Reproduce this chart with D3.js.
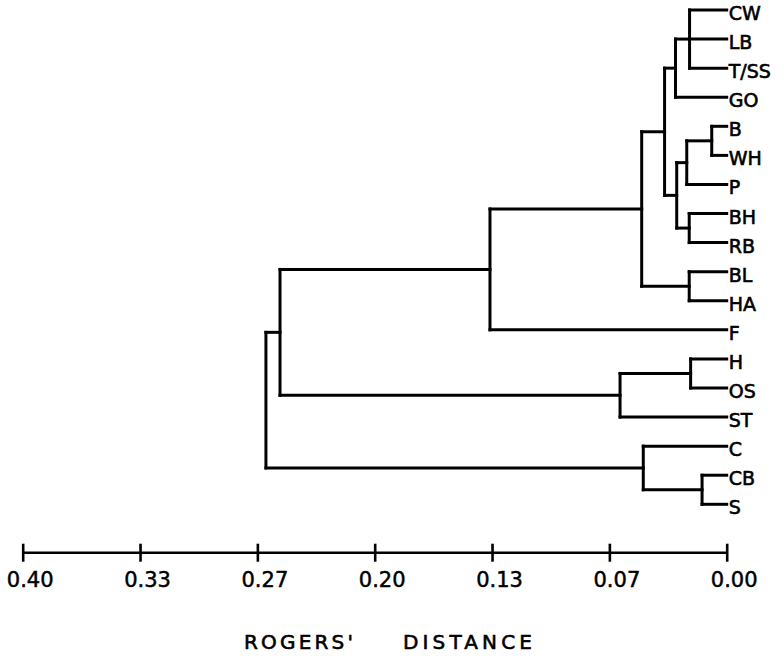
<!DOCTYPE html>
<html>
<head>
<meta charset="utf-8">
<script src="https://cdn.jsdelivr.net/npm/d3@7"></script>
<style>
  body { margin: 0; background: #fff; }
  svg { display: block; }
  .branch { fill: none; stroke: #000; stroke-width: 3; stroke-linecap: square; }
  .leaf { font-family: "DejaVu Sans", sans-serif; font-size: 19px; fill: #000; stroke: #000; stroke-width: 0.6; }
  .axis text { font-family: "DejaVu Sans", sans-serif; font-size: 21px; fill: #000; stroke: #000; stroke-width: 0.5; }
  .axis line, .axis path { stroke: #000; stroke-width: 2.6; }
  .title { font-family: "DejaVu Sans", sans-serif; font-size: 20px; fill: #000; stroke: #000; stroke-width: 0.6; }
</style>
</head>
<body>
<div id="chart"></div>
<script>
// leaves, top to bottom
var leaves = ["CW", "LB", "T/SS", "GO", "B", "WH", "P", "BH", "RB", "BL", "HA",
              "F", "H", "OS", "ST", "C", "CB", "S"];

// clusters: [id, members, Rogers' distance where they join]
var joins = [
  ["n1", ["CW", "LB", "T/SS"], 0.0211],
  ["n2", ["n1", "GO"], 0.0291],
  ["n3", ["B", "WH"], 0.0085],
  ["n4", ["n3", "P"], 0.0227],
  ["n5", ["BH", "RB"], 0.0213],
  ["n6", ["n4", "n5"], 0.0284],
  ["n7", ["n2", "n6"], 0.0353],
  ["n8", ["BL", "HA"], 0.0213],
  ["n9", ["n7", "n8"], 0.0483],
  ["n10", ["n9", "F"], 0.1345],
  ["n11", ["H", "OS"], 0.0205],
  ["n12", ["n11", "ST"], 0.0606],
  ["n13", ["n10", "n12"], 0.2538],
  ["n14", ["CB", "S"], 0.0140],
  ["n15", ["C", "n14"], 0.0474],
  ["n16", ["n13", "n15"], 0.2618]
];

// axis ticks
var tickValues = [0.4, 0.4 * 5 / 6, 0.4 * 4 / 6, 0.2, 0.4 * 2 / 6, 0.4 / 6, 0];
var tickLabels = ["0.40", "0.33", "0.27", "0.20", "0.13", "0.07", "0.00"];

var svgWidth = 784;
var svgHeight = 656;

var svg = d3.select("#chart")
  .append("svg")
  .attr("width", svgWidth)
  .attr("height", svgHeight);

var x = d3.scaleLinear()
  .domain([0.4, 0])
  .range([22.7, 726.7]);

var y = d3.scalePoint()
  .domain(leaves)
  .range([10, 504.3]);

// build tree from the join table
var joinMap = {};
joins.forEach(function (j) { joinMap[j[0]] = j; });

function build(name) {
  var j = joinMap[name];
  if (!j) return { name: name, dist: 0 };
  return { name: name, dist: j[2], children: j[1].map(build) };
}

var root = d3.hierarchy(build(joins[joins.length - 1][0]));

// vertical position: leaves from scale, clusters at middle of their span
root.eachAfter(function (node) {
  if (!node.children) {
    node.py = y(node.data.name);
  } else {
    var ys = node.children.map(function (c) { return c.py; });
    node.py = (d3.min(ys) + d3.max(ys)) / 2;
  }
  node.px = x(node.data.dist);
});

var g = svg.append("g");

// vertical bars at each join
g.selectAll(".vbar")
  .data(root.descendants().filter(function (d) { return d.children; }))
  .enter()
  .append("path")
  .attr("class", "branch")
  .attr("d", function (d) {
    var ys = d.children.map(function (c) { return c.py; });
    return "M" + d.px + "," + d3.min(ys) + "V" + d3.max(ys);
  });

// horizontal arms from join to child
g.selectAll(".hbar")
  .data(root.links())
  .enter()
  .append("path")
  .attr("class", "branch")
  .attr("d", function (l) {
    return "M" + l.source.px + "," + l.target.py + "H" + l.target.px;
  });

// leaf labels
g.selectAll(".leaf")
  .data(root.leaves())
  .enter()
  .append("text")
  .attr("class", "leaf")
  .attr("x", function (d) { return d.px + 2; })
  .attr("y", function (d) { return d.py + 10; })
  .text(function (d) { return d.data.name; });

// distance axis
var bottomAxis = d3.axisBottom(x)
  .tickValues(tickValues)
  .tickFormat(function (d, i) { return tickLabels[i]; })
  .tickSize(9)
  .tickSizeOuter(0);

var axisG = svg.append("g")
  .attr("class", "axis")
  .attr("transform", "translate(0, 552.7)")
  .call(bottomAxis);

axisG.select(".domain").attr("d", "M" + x(0.4) + ",0H" + x(0));
axisG.selectAll(".tick line").attr("y1", -9).attr("y2", 9);
axisG.selectAll(".tick text")
  .attr("y", 34.5)
  .attr("dy", null)
  .attr("dx", 7)
  .style("text-anchor", "middle");

// axis title, letter-spaced
svg.append("text")
  .attr("class", "title")
  .attr("x", 244)
  .attr("y", 649)
  .attr("textLength", 109)
  .attr("lengthAdjust", "spacing")
  .text("ROGERS'");

svg.append("text")
  .attr("class", "title")
  .attr("x", 403)
  .attr("y", 649)
  .attr("textLength", 129)
  .attr("lengthAdjust", "spacing")
  .text("DISTANCE");
</script>
</body>
</html>
